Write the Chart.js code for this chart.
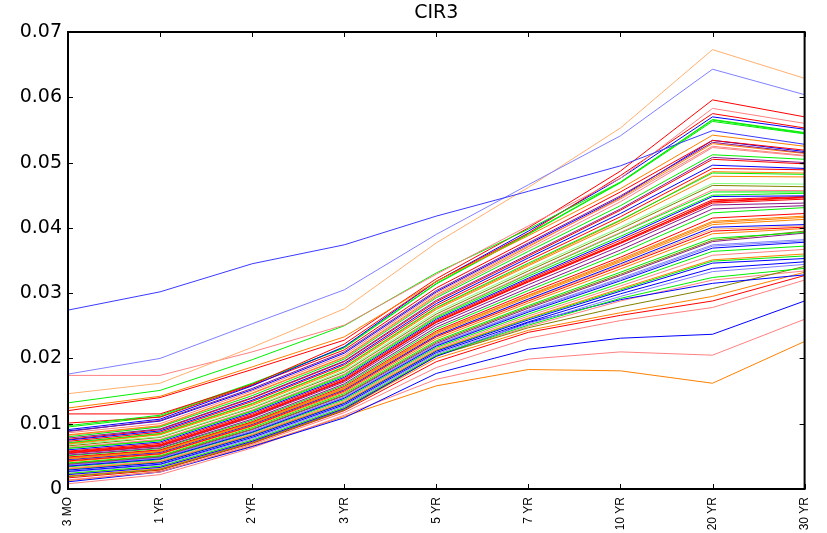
<!DOCTYPE html>
<html>
<head>
<meta charset="utf-8">
<title>CIR3</title>
<script src="https://cdn.jsdelivr.net/npm/chart.js@4.4.1/dist/chart.umd.min.js"></script>
<style>
  html, body { margin: 0; padding: 0; background: #fff; }
  canvas { display: block; }
</style>
</head>
<body>
<canvas id="cir3" width="827" height="533"></canvas>
<script>
// tenors on the x axis
const tenors = ["3 MO", "1 YR", "2 YR", "3 YR", "5 YR", "7 YR", "10 YR", "20 YR", "30 YR"];
const yTicks = [0, 0.01, 0.02, 0.03, 0.04, 0.05, 0.06, 0.07];

// curves that stand apart from the main bundle
const cA = [0.0274, 0.0302, 0.0345, 0.0374, 0.0418, 0.0456, 0.0495, 0.0549, 0.0528];
const cB = [0.0176, 0.0200, 0.0253, 0.0305, 0.0390, 0.0466, 0.0541, 0.0643, 0.0604];
const cC = [0.0146, 0.0162, 0.0217, 0.0276, 0.0377, 0.0462, 0.0553, 0.0673, 0.0629];
const cD = [0.0174, 0.0174, 0.0210, 0.0251, 0.0329, 0.0403, 0.0476, 0.0583, 0.0560];
const cE = [0.0132, 0.0151, 0.0198, 0.0250, 0.0331, 0.0398, 0.0470, 0.0566, 0.0546];
const cF = [0.0124, 0.0142, 0.0187, 0.0233, 0.0318, 0.0388, 0.0460, 0.0542, 0.0525];
const cG = [0.0120, 0.0140, 0.0183, 0.0228, 0.0322, 0.0400, 0.0487, 0.0596, 0.0570];
const cH = [0.0115, 0.0115, 0.0160, 0.0222, 0.0318, 0.0392, 0.0480, 0.0575, 0.0553];

// main bundle, top to bottom
const t01 = [0.0091, 0.0107, 0.0158, 0.0218, 0.0318, 0.0395, 0.0476, 0.0570, 0.0551];
const t02 = [0.0097, 0.0113, 0.0162, 0.0216, 0.0314, 0.0390, 0.0469, 0.0563, 0.0544];
const t03 = [0.0101, 0.0110, 0.0159, 0.0213, 0.0308, 0.0381, 0.0455, 0.0534, 0.0519];
const t04 = [0.0088, 0.0105, 0.0154, 0.0210, 0.0304, 0.0377, 0.0449, 0.0531, 0.0515];
const t05 = [0.0086, 0.0100, 0.0150, 0.0205, 0.0300, 0.0373, 0.0444, 0.0525, 0.0511];
const t06 = [0.0083, 0.0097, 0.0147, 0.0202, 0.0297, 0.0371, 0.0446, 0.0529, 0.0514];
const t07 = [0.0080, 0.0095, 0.0143, 0.0199, 0.0293, 0.0364, 0.0434, 0.0512, 0.0505];
const t08 = [0.0078, 0.0092, 0.0140, 0.0196, 0.0289, 0.0359, 0.0429, 0.0508, 0.0500];
const t09 = [0.0075, 0.0089, 0.0136, 0.0192, 0.0284, 0.0354, 0.0422, 0.0496, 0.0491];
const t10 = [0.0073, 0.0087, 0.0134, 0.0190, 0.0281, 0.0350, 0.0417, 0.0491, 0.0489];
const t11 = [0.0071, 0.0085, 0.0131, 0.0187, 0.0278, 0.0346, 0.0412, 0.0484, 0.0482];
const t12 = [0.0069, 0.0083, 0.0128, 0.0184, 0.0275, 0.0342, 0.0408, 0.0479, 0.0478];
const t13 = [0.0068, 0.0080, 0.0125, 0.0181, 0.0271, 0.0337, 0.0401, 0.0468, 0.0467];
const t14 = [0.0066, 0.0079, 0.0124, 0.0179, 0.0268, 0.0334, 0.0398, 0.0465, 0.0463];
const t15 = [0.0064, 0.0076, 0.0121, 0.0176, 0.0265, 0.0330, 0.0393, 0.0458, 0.0457];
const t16 = [0.0062, 0.0074, 0.0119, 0.0173, 0.0262, 0.0326, 0.0387, 0.0450, 0.0453];
const t17 = [0.0060, 0.0072, 0.0117, 0.0171, 0.0260, 0.0323, 0.0384, 0.0448, 0.0449];
const t18 = [0.0058, 0.0070, 0.0115, 0.0169, 0.0258, 0.0321, 0.0381, 0.0443, 0.0448];
const t19 = [0.0057, 0.0068, 0.0113, 0.0167, 0.0256, 0.0319, 0.0378, 0.0440, 0.0446];
const t20 = [0.0055, 0.0066, 0.0111, 0.0166, 0.0255, 0.0317, 0.0376, 0.0438, 0.0444];
const t21 = [0.0054, 0.0065, 0.0110, 0.0164, 0.0252, 0.0313, 0.0372, 0.0435, 0.0438];
const t22 = [0.0052, 0.0063, 0.0107, 0.0161, 0.0248, 0.0308, 0.0366, 0.0429, 0.0434];
const t23 = [0.0051, 0.0062, 0.0105, 0.0159, 0.0245, 0.0304, 0.0361, 0.0423, 0.0431];
const t24 = [0.0049, 0.0060, 0.0103, 0.0157, 0.0242, 0.0300, 0.0355, 0.0415, 0.0422];
const t25 = [0.0048, 0.0059, 0.0102, 0.0155, 0.0240, 0.0297, 0.0352, 0.0410, 0.0418];
const t26 = [0.0046, 0.0057, 0.0100, 0.0153, 0.0237, 0.0294, 0.0348, 0.0405, 0.0413];
const t27 = [0.0045, 0.0056, 0.0099, 0.0152, 0.0235, 0.0291, 0.0345, 0.0401, 0.0405];
const t28 = [0.0043, 0.0054, 0.0097, 0.0150, 0.0233, 0.0288, 0.0341, 0.0395, 0.0401];
const t29 = [0.0042, 0.0053, 0.0096, 0.0148, 0.0230, 0.0285, 0.0337, 0.0391, 0.0399];
const t30 = [0.0040, 0.0051, 0.0094, 0.0146, 0.0227, 0.0281, 0.0332, 0.0384, 0.0393];
const t31 = [0.0039, 0.0050, 0.0092, 0.0144, 0.0225, 0.0279, 0.0329, 0.0381, 0.0395];
const t32 = [0.0038, 0.0049, 0.0091, 0.0143, 0.0223, 0.0277, 0.0327, 0.0379, 0.0392];
const t33 = [0.0037, 0.0048, 0.0089, 0.0141, 0.0221, 0.0274, 0.0323, 0.0374, 0.0382];
const t34 = [0.0035, 0.0046, 0.0087, 0.0139, 0.0219, 0.0271, 0.0319, 0.0369, 0.0378];
const t35 = [0.0034, 0.0045, 0.0086, 0.0137, 0.0217, 0.0268, 0.0315, 0.0364, 0.0372];
const t36 = [0.0032, 0.0043, 0.0084, 0.0135, 0.0215, 0.0265, 0.0311, 0.0358, 0.0367];
const t37 = [0.0031, 0.0042, 0.0083, 0.0133, 0.0213, 0.0262, 0.0307, 0.0351, 0.0360];
const t38 = [0.0029, 0.0040, 0.0081, 0.0131, 0.0211, 0.0259, 0.0303, 0.0346, 0.0353];
const t39 = [0.0027, 0.0038, 0.0079, 0.0129, 0.0209, 0.0256, 0.0299, 0.0338, 0.0348];
const t40 = [0.0026, 0.0037, 0.0077, 0.0127, 0.0207, 0.0253, 0.0295, 0.0333, 0.0344];
const t41 = [0.0024, 0.0035, 0.0075, 0.0125, 0.0205, 0.0251, 0.0292, 0.0324, 0.0338];
const t42 = [0.0022, 0.0033, 0.0073, 0.0123, 0.0203, 0.0255, 0.0290, 0.0315, 0.0328];
const t43 = [0.0019, 0.0030, 0.0071, 0.0121, 0.0204, 0.0247, 0.0279, 0.0307, 0.0341];

// more curves packed into the same bundle
const u01 = [0.0095, 0.0111, 0.0161, 0.0217, 0.0315, 0.0391, 0.0470, 0.0565, 0.0545];
const u02 = [0.0089, 0.0104, 0.0152, 0.0208, 0.0302, 0.0375, 0.0447, 0.0534, 0.0517];
const u03 = [0.0082, 0.0096, 0.0146, 0.0201, 0.0295, 0.0368, 0.0440, 0.0523, 0.0510];
const u04 = [0.0076, 0.0091, 0.0139, 0.0195, 0.0287, 0.0357, 0.0427, 0.0505, 0.0498];
const u05 = [0.0070, 0.0084, 0.0130, 0.0186, 0.0277, 0.0344, 0.0411, 0.0486, 0.0484];
const u06 = [0.0063, 0.0075, 0.0120, 0.0175, 0.0264, 0.0329, 0.0392, 0.0455, 0.0455];
const u07 = [0.0056, 0.0067, 0.0112, 0.0166, 0.0256, 0.0318, 0.0377, 0.0441, 0.0447];
const u08 = [0.0047, 0.0058, 0.0101, 0.0154, 0.0239, 0.0296, 0.0350, 0.0408, 0.0416];
const u09 = [0.0044, 0.0055, 0.0098, 0.0151, 0.0234, 0.0290, 0.0343, 0.0398, 0.0403];
const u10 = [0.0036, 0.0047, 0.0088, 0.0140, 0.0220, 0.0273, 0.0321, 0.0372, 0.0380];
const u11 = [0.0030, 0.0041, 0.0082, 0.0132, 0.0212, 0.0261, 0.0305, 0.0349, 0.0357];
const u12 = [0.0023, 0.0034, 0.0074, 0.0124, 0.0204, 0.0249, 0.0288, 0.0320, 0.0334];

// low curves under the bundle
const b1 = [0.0020, 0.0031, 0.0072, 0.0122, 0.0200, 0.0243, 0.0270, 0.0295, 0.0332];
const b2 = [0.0017, 0.0029, 0.0070, 0.0120, 0.0195, 0.0240, 0.0266, 0.0288, 0.0327];
const b3 = [0.0014, 0.0026, 0.0068, 0.0117, 0.0186, 0.0231, 0.0258, 0.0278, 0.0320];
const b4 = [0.0011, 0.0026, 0.0065, 0.0109, 0.0177, 0.0214, 0.0231, 0.0237, 0.0288];
const b5 = [0.0008, 0.0022, 0.0063, 0.0113, 0.0168, 0.0199, 0.0210, 0.0205, 0.0260];
const b6 = [0.0013, 0.0027, 0.0066, 0.0111, 0.0158, 0.0183, 0.0181, 0.0162, 0.0226];

const curves = [
  cA, cB, cC, cD, cE, cF, cG, cH,
  t01, t02, t03, t04, t05, t06, t07, t08, t09, t10,
  t11, t12, t13, t14, t15, t16, t17, t18, t19, t20,
  t21, t22, t23, t24, t25, t26, t27, t28, t29, t30,
  t31, t32, t33, t34, t35, t36, t37, t38, t39, t40,
  t41, t42, t43,
  u01, u02, u03, u04, u05, u06, u07, u08, u09, u10, u11, u12,
  b1, b2, b3, b4, b5, b6
];

const BLUE = "#0000ff", GREEN = "#00ee00", RED = "#ff0000", ORANGE = "#ff8000",
      PURPLE = "#8a1a8a", OLIVE = "#808000", LRED = "#ff8080", LBLUE = "#8080ff",
      LGREEN = "#80ff80", LORANGE = "#ffb070";

const curveColors = [
  "#3a3aff", LBLUE, LORANGE, LRED, GREEN, ORANGE, RED, RED,
  BLUE, GREEN, RED, PURPLE, LRED, ORANGE, GREEN, PURPLE, BLUE, RED,
  GREEN, ORANGE, LGREEN, OLIVE, LRED, GREEN, BLUE, RED, RED, RED,
  PURPLE, PURPLE, GREEN, RED, ORANGE, ORANGE, BLUE, RED, ORANGE, GREEN,
  OLIVE, PURPLE, LBLUE, BLUE, GREEN, LRED, ORANGE, BLUE, BLUE, LBLUE,
  GREEN, BLUE, OLIVE,
  GREEN, BLUE, LRED, RED, ORANGE, GREEN, RED, ORANGE, LORANGE, LBLUE, GREEN, LRED,
  ORANGE, RED, LRED, BLUE, LRED, ORANGE
];

const LABEL_FONT = "'DejaVu Sans', Verdana, sans-serif";
const TICK_FONT = "'Liberation Sans', Arial, Helvetica, sans-serif";

// box with inward ticks on all four sides, plus the title
const boxAndTitle = {
  id: "boxAndTitle",
  afterDraw(chart) {
    const { ctx, chartArea: a, scales } = chart;
    const x = scales.x, y = scales.y;
    ctx.save();
    ctx.strokeStyle = "#000";
    ctx.lineWidth = 1;
    ctx.beginPath();
    y.ticks.forEach(t => {
      const py = Math.round(y.getPixelForValue(t.value)) + 0.5;
      ctx.moveTo(a.left, py); ctx.lineTo(a.left + 5, py);
      ctx.moveTo(a.right, py); ctx.lineTo(a.right - 5, py);
    });
    x.ticks.forEach((t, i) => {
      const px = Math.round(x.getPixelForTick(i)) + 0.5;
      ctx.moveTo(px, a.bottom); ctx.lineTo(px, a.bottom - 5);
      ctx.moveTo(px, a.top); ctx.lineTo(px, a.top + 5);
    });
    ctx.stroke();
    ctx.lineWidth = 2;
    ctx.strokeRect(a.left, a.top, a.right - a.left, a.bottom - a.top);

    ctx.fillStyle = "#000";
    ctx.font = "19px " + LABEL_FONT;
    ctx.textAlign = "center";
    ctx.textBaseline = "middle";
    ctx.fillText("CIR3", (a.left + a.right) / 2, 13);
    ctx.restore();
  }
};

new Chart(document.getElementById("cir3"), {
  type: "line",
  data: {
    labels: tenors,
    datasets: curves.map((vals, i) => ({
      data: vals,
      borderColor: curveColors[i],
      borderWidth: 1,
      pointRadius: 0,
      tension: 0,
      fill: false
    }))
  },
  options: {
    responsive: false,
    animation: false,
    events: [],
    layout: { padding: { top: 32, right: 18, left: 0, bottom: 0 } },
    plugins: {
      legend: { display: false },
      title: { display: false },
      tooltip: { enabled: false }
    },
    scales: {
      x: {
        offset: false,
        grid: { display: false, drawTicks: false },
        border: { display: false },
        ticks: {
          autoSkip: false,
          minRotation: 90,
          maxRotation: 90,
          padding: 8,
          color: "#000",
          font: { family: TICK_FONT, size: 12 }
        },
        afterFit(scale) { scale.height = 44; }
      },
      y: {
        min: 0,
        max: 0.07,
        grid: { display: false, drawTicks: false },
        border: { display: false },
        afterBuildTicks(scale) { scale.ticks = yTicks.map(v => ({ value: v })); },
        ticks: {
          padding: 6,
          color: "#000",
          font: { family: LABEL_FONT, size: 19 },
          callback: v => (v === 0 ? "0" : v.toFixed(2))
        },
        afterFit(scale) { scale.width = 68; }
      }
    }
  },
  plugins: [boxAndTitle]
});
</script>
</body>
</html>
